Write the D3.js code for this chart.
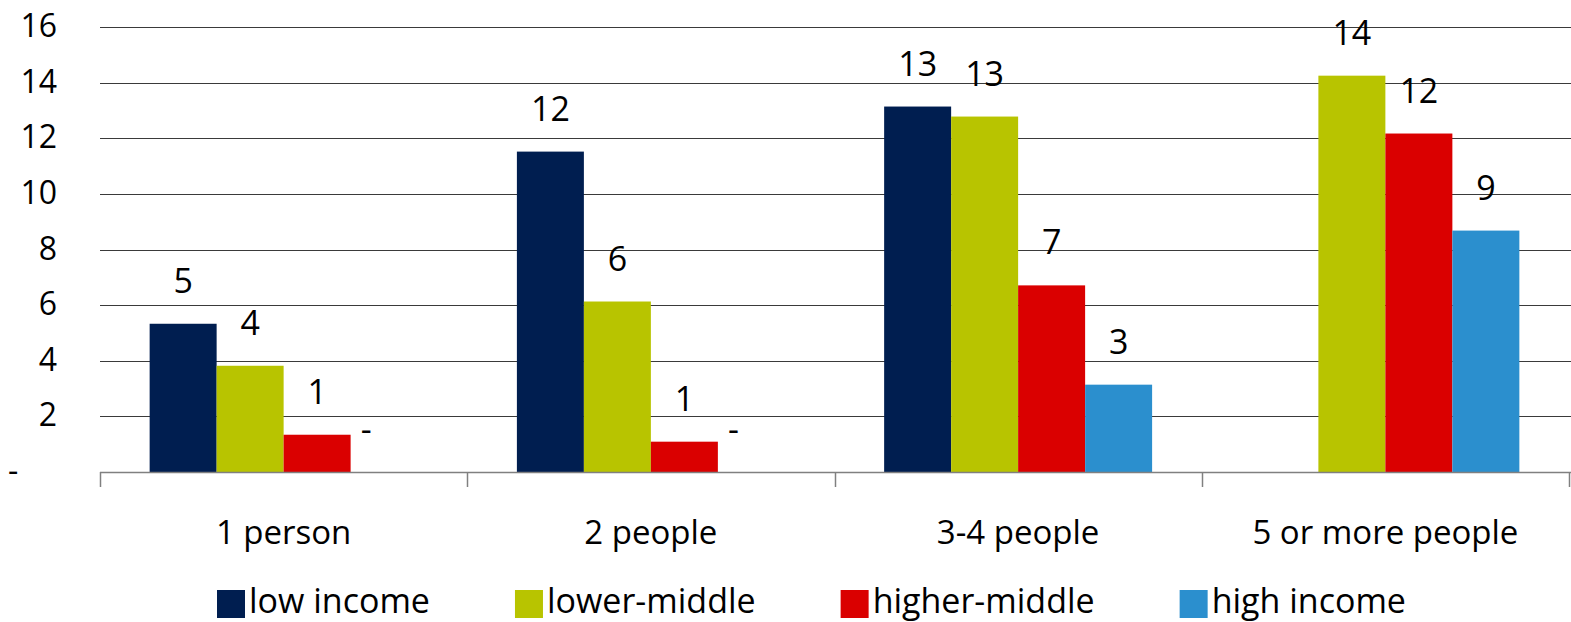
<!DOCTYPE html>
<html>
<head>
<meta charset="utf-8">
<script src="https://cdn.jsdelivr.net/npm/d3@7/dist/d3.min.js"></script>
<style>
  html, body { margin: 0; padding: 0; background: #fff; }
  svg { display: block; font-family: "Open Sans", "Noto Sans", sans-serif; }
</style>
</head>
<body>
<svg id="chart" width="1571" height="622"></svg>
<script>
// Household size groups and income classes
const categories = ["1 person", "2 people", "3-4 people", "5 or more people"];
const seriesNames = ["low income", "lower-middle", "higher-middle", "high income"];
const seriesColors = ["#001e50", "#b8c400", "#da0000", "#2b8fce"];

// Values per income class, one entry per household size (null = no data)
const lowIncome = [5.33, 11.52, 13.14, null];
const lowerMiddle = [3.82, 6.13, 12.78, 14.25];
const higherMiddle = [1.34, 1.09, 6.71, 12.17];
const highIncome = [0, 0, 3.14, 8.68];

const yTicks = [0, 2, 4, 6, 8, 10, 12, 14, 16];

const seriesValues = [lowIncome, lowerMiddle, higherMiddle, highIncome];

const svg = d3.select("#chart");
const W = 1571;

const x0 = d3.scaleBand().domain(categories).range([100, 1569]).paddingInner(0).paddingOuter(0);
const x1 = d3.scaleBand().domain(seriesNames).range([0, x0.bandwidth()]).paddingInner(0).paddingOuter(0.741);
const y = d3.scaleLinear().domain([0, 16]).range([472, 27]);
const color = d3.scaleOrdinal().domain(seriesNames).range(seriesColors);

// horizontal gridlines
svg.append("g")
  .selectAll("line")
  .data(yTicks.filter(t => t > 0))
  .join("line")
  .attr("x1", 100).attr("x2", W)
  .attr("y1", d => Math.round(y(d)) + 0.5).attr("y2", d => Math.round(y(d)) + 0.5)
  .attr("stroke", "#3a3a3a").attr("stroke-width", 1.2);

// y tick labels ("-" for zero, accounting style)
svg.append("g")
  .selectAll("text")
  .data(yTicks)
  .join("text")
  .attr("x", d => d === 0 ? 8 : 57)
  .attr("y", d => y(d) + 10)
  .attr("text-anchor", d => d === 0 ? "start" : "end")
  .attr("font-size", 32)
  .attr("fill", "#000")
  .text(d => d === 0 ? "-" : d);

// bars
const rows = [];
seriesValues.forEach((vals, si) => {
  vals.forEach((v, ci) => {
    rows.push({ cat: categories[ci], series: seriesNames[si], value: v });
  });
});
const present = rows.filter(r => r.value !== null);

svg.append("g")
  .selectAll("rect")
  .data(present.filter(r => r.value > 0))
  .join("rect")
  .attr("x", r => x0(r.cat) + x1(r.series))
  .attr("y", r => y(r.value))
  .attr("width", x1.bandwidth())
  .attr("height", r => y(0) - y(r.value))
  .attr("fill", r => color(r.series));

// baseline axis with category separators
const axis = svg.append("g");
axis.append("line")
  .attr("x1", 100).attr("x2", W)
  .attr("y1", y(0) + 0.5).attr("y2", y(0) + 0.5)
  .attr("stroke", "#808080").attr("stroke-width", 1.5);
const sepX = categories.map(c => x0(c)).concat([x0.range()[1]]);
axis.selectAll("line.sep")
  .data(sepX)
  .join("line")
  .attr("class", "sep")
  .attr("x1", d => Math.round(d) + 0.5).attr("x2", d => Math.round(d) + 0.5)
  .attr("y1", y(0)).attr("y2", y(0) + 15)
  .attr("stroke", "#808080").attr("stroke-width", 1.5);

// category labels
svg.append("g")
  .selectAll("text")
  .data(categories)
  .join("text")
  .attr("x", c => x0(c) + x0.bandwidth() / 2)
  .attr("y", 544)
  .attr("text-anchor", "middle")
  .attr("font-size", 33)
  .attr("fill", "#000")
  .text(c => c);

// value labels
svg.append("g")
  .selectAll("text")
  .data(present)
  .join("text")
  .attr("x", r => x0(r.cat) + x1(r.series) + x1.bandwidth() / 2 + (r.value === 0 ? -18 : 0))
  .attr("y", r => y(r.value) - 31)
  .attr("text-anchor", "middle")
  .attr("font-size", 34)
  .attr("fill", "#000")
  .text(r => r.value === 0 ? "-" : d3.format(".0f")(r.value));

// legend
const legend = svg.append("g");
let lx = 217;
seriesNames.forEach(name => {
  const g = legend.append("g");
  g.append("rect")
    .attr("x", lx).attr("y", 590)
    .attr("width", 28).attr("height", 28)
    .attr("fill", color(name));
  const t = g.append("text")
    .attr("x", lx + 32).attr("y", 613)
    .attr("font-size", 34)
    .attr("fill", "#000")
    .text(name);
  lx += 32 + t.node().getComputedTextLength() + 85;
});
</script>
</body>
</html>
